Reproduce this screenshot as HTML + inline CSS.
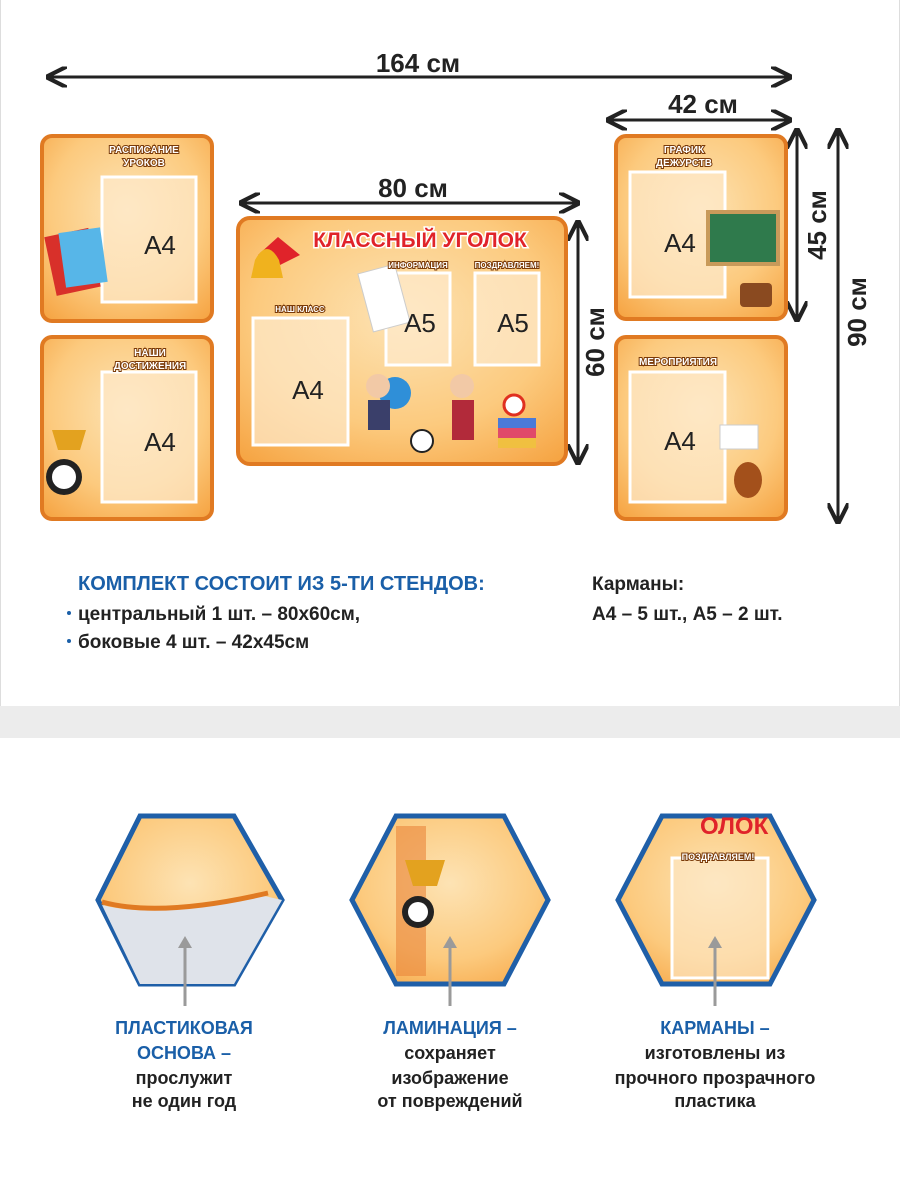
<!DOCTYPE html>
<html><head><meta charset="utf-8"><style>
html,body{margin:0;padding:0;background:#fff}
svg{display:block}
text{font-family:"Liberation Sans",sans-serif}
.lb{paint-order:stroke;stroke:#7a3a08;stroke-width:2;fill:#fff;font-weight:bold}
</style></head><body>
<svg width="900" height="1200" viewBox="0 0 900 1200" xmlns="http://www.w3.org/2000/svg">
<defs>
<radialGradient id="og" cx="0.5" cy="0.4" r="0.75">
<stop offset="0" stop-color="#fde3b4"/><stop offset="0.6" stop-color="#fcca7e"/><stop offset="1" stop-color="#f6a544"/>
</radialGradient>
<marker id="ah" viewBox="0 0 10 10" refX="9" refY="5" markerWidth="7" markerHeight="7" orient="auto-start-reverse">
<path d="M0,0 L10,5 L0,10" fill="none" stroke="#222" stroke-width="2"/>
</marker>
</defs>
<rect width="900" height="1200" fill="#fff"/>
<line x1="0.5" y1="0" x2="0.5" y2="706" stroke="#ddd"/>
<line x1="899.5" y1="0" x2="899.5" y2="706" stroke="#ddd"/>
<rect x="0" y="706" width="900" height="32" fill="#ececec"/>

<g stroke="#222" stroke-width="3" fill="none">
<line x1="48" y1="77" x2="790" y2="77" marker-start="url(#ah)" marker-end="url(#ah)"/>
<line x1="241" y1="203" x2="578" y2="203" marker-start="url(#ah)" marker-end="url(#ah)"/>
<line x1="608" y1="120" x2="790" y2="120" marker-start="url(#ah)" marker-end="url(#ah)"/>
<line x1="578" y1="222" x2="578" y2="463" marker-start="url(#ah)" marker-end="url(#ah)"/>
<line x1="797" y1="130" x2="797" y2="320" marker-start="url(#ah)" marker-end="url(#ah)"/>
<line x1="838" y1="130" x2="838" y2="522" marker-start="url(#ah)" marker-end="url(#ah)"/>
</g>
<g font-size="26" fill="#222" text-anchor="middle" font-weight="bold">
<text x="418" y="72">164 см</text>
<text x="413" y="197">80 см</text>
<text x="703" y="113">42 см</text>
<text transform="translate(604,342) rotate(-90)">60 см</text>
<text transform="translate(826,225) rotate(-90)">45 см</text>
<text transform="translate(866,312) rotate(-90)">90 см</text>
</g>

<g stroke="#e07a22" stroke-width="4" fill="url(#og)">
<rect x="42" y="136" width="170" height="185" rx="10"/>
<rect x="42" y="337" width="170" height="182" rx="10"/>
<rect x="238" y="218" width="328" height="246" rx="12"/>
<rect x="616" y="136" width="170" height="183" rx="10"/>
<rect x="616" y="337" width="170" height="182" rx="10"/>
</g>
<g fill="#fde9cc" fill-opacity="0.7" stroke="#fff" stroke-width="3">
<rect x="102" y="177" width="94" height="125"/>
<rect x="102" y="372" width="94" height="130"/>
<rect x="253" y="318" width="95" height="127"/>
<rect x="386" y="273" width="64" height="92"/>
<rect x="475" y="273" width="64" height="92"/>
<rect x="630" y="172" width="95" height="125"/>
<rect x="630" y="372" width="95" height="130"/>
</g>
<rect x="50" y="232" width="45" height="60" fill="#d8302a" transform="rotate(-12 72 262)"/>
<rect x="62" y="230" width="42" height="55" fill="#57b6e8" transform="rotate(-8 83 257)"/>
<circle cx="64" cy="477" r="18" fill="#222"/><circle cx="64" cy="477" r="12" fill="#fff"/>
<path d="M52 430 h34 l-6 20 h-22z" fill="#e3a21f"/>
<rect x="708" y="212" width="70" height="52" fill="#2f7a4c" stroke="#c89a5a" stroke-width="4"/>
<rect x="740" y="283" width="32" height="24" rx="4" fill="#8a4a20"/>
<ellipse cx="748" cy="480" rx="14" ry="18" fill="#a3501b"/>
<rect x="720" y="425" width="38" height="24" fill="#fff" stroke="#ccc"/>
<path d="M258 255 l20 -18 l22 18 l-20 10z" fill="#e0232a"/>
<path d="M255 260 q12 -22 24 0 l4 18 h-32z" fill="#f0b21e"/>
<rect x="365" y="268" width="38" height="60" fill="#fff" stroke="#ccc" transform="rotate(-15 384 298)"/>
<circle cx="395" cy="393" r="16" fill="#2f8fd8"/>
<rect x="368" y="400" width="22" height="30" fill="#3a3f6a"/>
<circle cx="378" cy="386" r="12" fill="#f2c9a6"/>
<circle cx="422" cy="441" r="11" fill="#fff" stroke="#222" stroke-width="2"/>
<circle cx="462" cy="386" r="12" fill="#f2c9a6"/>
<rect x="452" y="400" width="22" height="40" fill="#b22a3a"/>
<rect x="498" y="418" width="38" height="10" fill="#4a7ad8"/>
<rect x="498" y="428" width="38" height="10" fill="#e04a6a"/>
<rect x="498" y="438" width="38" height="10" fill="#f0c040"/>
<circle cx="514" cy="405" r="10" fill="#fff" stroke="#e03020" stroke-width="3"/>
<g class="lb" font-size="10" text-anchor="middle">
<text x="144" y="153">РАСПИСАНИЕ</text><text x="144" y="166">УРОКОВ</text>
<text x="150" y="356">НАШИ</text><text x="150" y="369">ДОСТИЖЕНИЯ</text>
<text x="300" y="312" font-size="8">НАШ КЛАСС</text>
<text x="418" y="268" font-size="8">ИНФОРМАЦИЯ</text>
<text x="507" y="268" font-size="8">ПОЗДРАВЛЯЕМ!</text>
<text x="684" y="153">ГРАФИК</text><text x="684" y="166">ДЕЖУРСТВ</text>
<text x="678" y="365">МЕРОПРИЯТИЯ</text>
</g>
<text x="420" y="247" text-anchor="middle" font-size="21" font-weight="bold" fill="#e0232a" stroke="#fff" stroke-width="3" paint-order="stroke">КЛАССНЫЙ УГОЛОК</text>
<g font-size="26" fill="#222" text-anchor="middle">
<text x="160" y="254">А4</text>
<text x="160" y="451">А4</text>
<text x="308" y="399">А4</text>
<text x="420" y="332">А5</text>
<text x="513" y="332">А5</text>
<text x="680" y="252">А4</text>
<text x="680" y="450">А4</text>
</g>

<g font-weight="bold" font-size="20">
<text x="78" y="590" fill="#1a5fa8">КОМПЛЕКТ СОСТОИТ ИЗ 5-ТИ СТЕНДОВ:</text>
<text x="78" y="620" fill="#222" font-size="19">центральный 1 шт. – 80х60см,</text>
<text x="78" y="648" fill="#222" font-size="19">боковые 4 шт. – 42х45см</text>
<circle cx="69" cy="613" r="2" fill="#1a5fa8"/><circle cx="69" cy="641" r="2" fill="#1a5fa8"/>
<text x="592" y="590" fill="#222" font-size="19">Карманы:</text>
<text x="592" y="620" fill="#222" font-size="19">А4 – 5 шт., А5 – 2 шт.</text>
</g>

<g stroke="#1f5fa8" stroke-width="5" fill="url(#og)">
<polygon points="98,900 140,816 234,816 282,900 234,984 140,984"/>
<polygon points="352,900 396,816 504,816 548,900 504,984 396,984"/>
<polygon points="618,900 662,816 770,816 814,900 770,984 662,984"/>
</g>
<path d="M102,905 Q160,920 260,895 L282,900 L234,984 L140,984 Z" fill="#dfe3ea"/>
<path d="M102,902 Q160,918 268,893" stroke="#e07a22" stroke-width="5" fill="none"/>
<rect x="396" y="826" width="30" height="150" fill="#e9863a" opacity="0.6"/>
<circle cx="418" cy="912" r="16" fill="#222"/><circle cx="418" cy="912" r="10" fill="#fff"/>
<path d="M405 860 h40 l-8 26 h-24z" fill="#e3a21f"/>
<rect x="672" y="858" width="96" height="120" fill="#fde9cc" fill-opacity="0.6" stroke="#fff" stroke-width="3"/>
<text x="700" y="834" font-size="24" font-weight="bold" fill="#e0232a">ОЛОК</text>
<text x="718" y="860" class="lb" font-size="9" text-anchor="middle">ПОЗДРАВЛЯЕМ!</text>
<g stroke="#9a9a9a" stroke-width="3" fill="#9a9a9a">
<line x1="185" y1="1006" x2="185" y2="945"/><polygon points="178,948 192,948 185,936" stroke="none"/>
<line x1="450" y1="1006" x2="450" y2="945"/><polygon points="443,948 457,948 450,936" stroke="none"/>
<line x1="715" y1="1006" x2="715" y2="945"/><polygon points="708,948 722,948 715,936" stroke="none"/>
</g>
<g font-weight="bold" font-size="18" text-anchor="middle">
<text x="184" y="1034" fill="#1a5fa8">ПЛАСТИКОВАЯ</text>
<text x="184" y="1059" fill="#1a5fa8">ОСНОВА –</text>
<text x="184" y="1084" fill="#222">прослужит</text>
<text x="184" y="1107" fill="#222">не один год</text>
<text x="450" y="1034" fill="#1a5fa8">ЛАМИНАЦИЯ –</text>
<text x="450" y="1059" fill="#222">сохраняет</text>
<text x="450" y="1084" fill="#222">изображение</text>
<text x="450" y="1107" fill="#222">от повреждений</text>
<text x="715" y="1034" fill="#1a5fa8">КАРМАНЫ –</text>
<text x="715" y="1059" fill="#222">изготовлены из</text>
<text x="715" y="1084" fill="#222">прочного прозрачного</text>
<text x="715" y="1107" fill="#222">пластика</text>
</g>
</svg>
</body></html>
